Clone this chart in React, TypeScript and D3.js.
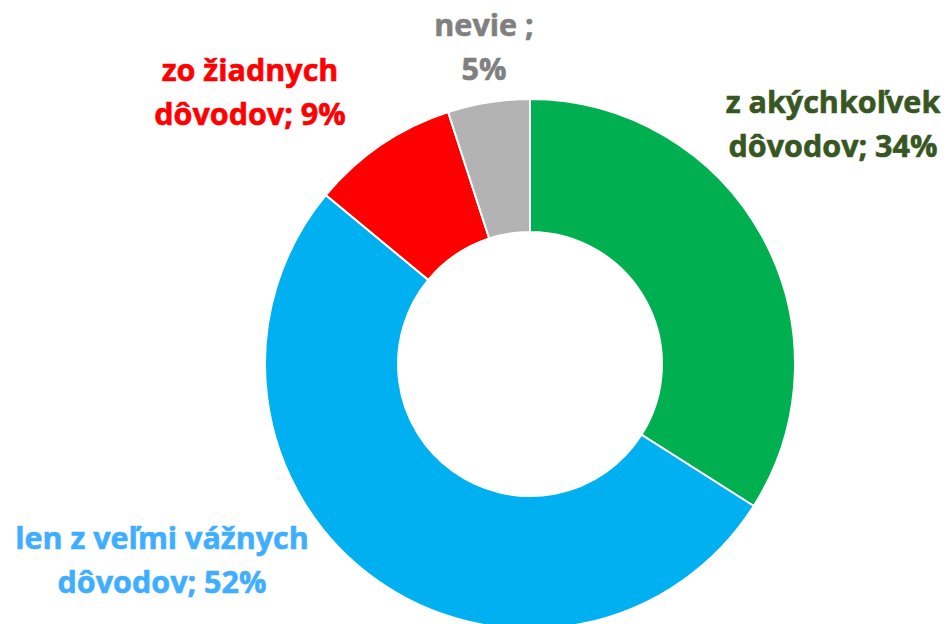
import React from "react";
import * as d3 from "d3";

const categories = ["z akýchkoľvek dôvodov", "len z veľmi vážnych dôvodov", "zo žiadnych dôvodov", "nevie "];
const values = [34, 52, 9, 5];
const labelLines = [
  ["z akýchkoľvek", "dôvodov; 34%"],
  ["len z veľmi vážnych", "dôvodov; 52%"],
  ["zo žiadnych", "dôvodov; 9%"],
  ["nevie ;", "5%"],
];
const sliceColors = ["#00B050", "#00B0F0", "#FF0000", "#B3B3B3"];
const labelColors = ["#375623", "#40AEFF", "#FF0000", "#808080"];
// label anchor positions (center x, first baseline y)
const labelPos: [number, number][] = [
  [833, 113],
  [162, 549],
  [250, 81],
  [484, 36],
];

const W = 950;
const H = 624;
const cx = 530;
const cy = 364;
const outerR = 265;
const innerR = 132;

export default function App() {
  const pie = d3.pie<number>().sort(null).value((d) => d)(values);
  const arc = d3.arc<d3.PieArcDatum<number>>().innerRadius(innerR).outerRadius(outerR);
  return (
    <svg
      width={W}
      height={H}
      style={{ position: "fixed", left: 0, top: 0, background: "#fff" }}
      fontFamily="'Open Sans', sans-serif"
    >
      <g transform={`translate(${cx},${cy})`}>
        {pie.map((p, i) => (
          <path key={categories[i]} d={arc(p) || ""} fill={sliceColors[i]} stroke="#fff" strokeWidth={2} />
        ))}
      </g>
      {labelLines.map((lines, i) => (
        <text
          key={i}
          x={labelPos[i][0]}
          y={labelPos[i][1]}
          textAnchor="middle"
          fontSize={30.5}
          fontWeight="bold"
          fill={labelColors[i]}
          stroke={labelColors[i]}
          strokeWidth={0.6}
        >
          {lines.map((l, j) => (
            <tspan key={j} x={labelPos[i][0]} dy={j === 0 ? 0 : 44}>
              {l}
            </tspan>
          ))}
        </text>
      ))}
    </svg>
  );
}
